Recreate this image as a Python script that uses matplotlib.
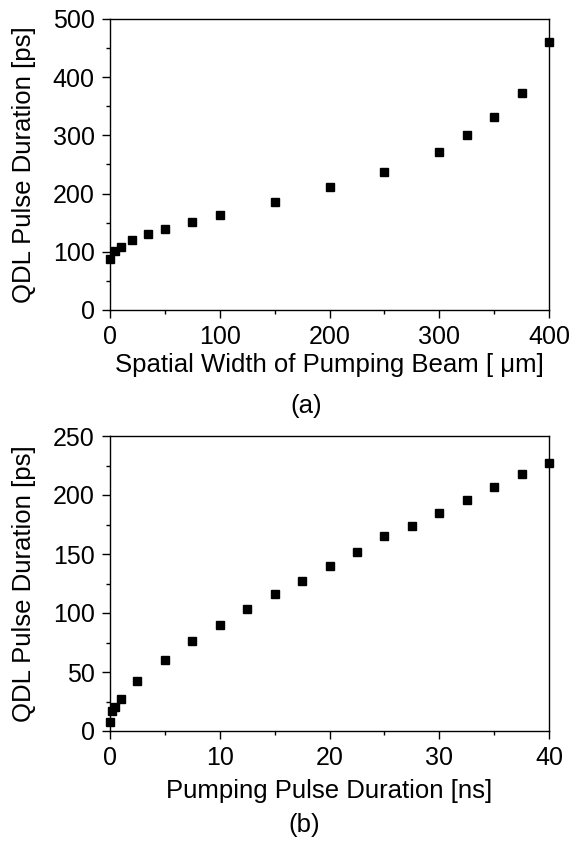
import matplotlib
matplotlib.use("Agg")
import matplotlib.pyplot as plt

plt.rcParams['font.family'] = ['Liberation Sans', 'DejaVu Sans']

# (a) pulse duration vs spatial width of pumping beam
width_um = [0, 5, 10, 20, 35, 50, 75, 100, 150, 200, 250, 300, 325, 350, 375, 400]
dur_a_ps = [88, 101, 109, 121, 131, 140, 152, 164, 186, 211, 237, 271, 301, 331, 372, 460]

# (b) pulse duration vs pumping pulse duration
pump_ns = [0, 0.2, 0.5, 1, 2.5, 5, 7.5, 10, 12.5, 15, 17.5, 20, 22.5, 25, 27.5,
           30, 32.5, 35, 37.5, 40]
dur_b_ps = [8, 17, 20, 27, 42, 60, 76, 90, 103, 116, 127, 140, 152, 165, 174,
            185, 196, 207, 218, 227]

W, H = 569, 843
fig = plt.figure(figsize=(W / 100, H / 100), dpi=100)

def px_axes(x0, y0, x1, y1):
    return fig.add_axes([x0 / W, 1 - y1 / H, (x1 - x0) / W, (y1 - y0) / H])

ax1 = px_axes(110, 19, 549, 310)
ax2 = px_axes(110, 436, 549, 731)

tfs = 18    # tick labels
lfs = 18.5  # axis labels
for ax in (ax1, ax2):
    ax.tick_params(which='major', direction='out', length=6, width=1,
                   labelsize=tfs, top=False, right=False, pad=5)
    ax.tick_params(which='minor', direction='out', length=3, width=1,
                   top=False, right=False)
    for s in ax.spines.values():
        s.set_linewidth(1)

ax1.plot(width_um, dur_a_ps, 's', color='black', ms=6.3, clip_on=False)
ax1.set_xlim(0, 400)
ax1.set_ylim(0, 500)
ax1.set_xticks([0, 100, 200, 300, 400])
ax1.set_xticks([50, 150, 250, 350], minor=True)
ax1.set_yticks([0, 100, 200, 300, 400, 500])
ax1.set_yticks([50, 150, 250, 350, 450], minor=True)
ax1.set_xlabel('Spatial Width of Pumping Beam [ \u03bcm]', fontsize=lfs)
ax1.set_ylabel('QDL Pulse Duration [ps]', fontsize=lfs)
ax1.xaxis.set_label_coords(0.5, (310 - 353) / 291)
ax1.yaxis.set_label_coords((36 - 110) / 439, 0.5)
fig.text(306 / W, 1 - 406 / H, '(a)', ha='center', va='center', fontsize=lfs)

ax2.plot(pump_ns, dur_b_ps, 's', color='black', ms=6, clip_on=False)
ax2.set_xlim(0, 40)
ax2.set_ylim(0, 250)
ax2.set_xticks([0, 10, 20, 30, 40])
ax2.set_xticks([5, 15, 25, 35], minor=True)
ax2.set_yticks([0, 50, 100, 150, 200, 250])
ax2.set_yticks([25, 75, 125, 175, 225], minor=True)
ax2.set_xlabel('Pumping Pulse Duration [ns]', fontsize=lfs)
ax2.set_ylabel('QDL Pulse Duration [ps]', fontsize=lfs)
ax2.xaxis.set_label_coords(0.5, (731 - 779) / 295)
ax2.yaxis.set_label_coords((36 - 110) / 439, 0.5)
fig.text(304 / W, 1 - 825 / H, '(b)', ha='center', va='center', fontsize=lfs)

fig.savefig('out.png', dpi=100)
